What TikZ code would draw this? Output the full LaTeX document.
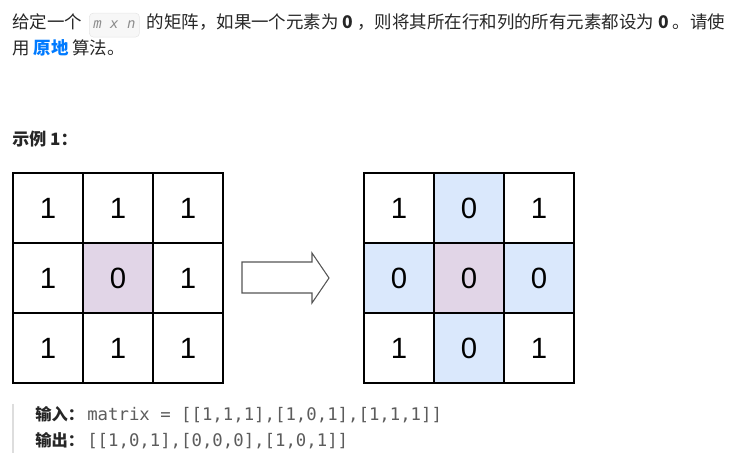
\documentclass[tikz,border=0pt]{standalone}
\usepackage{fontspec}
\setmainfont{Liberation Sans}
\setmonofont{DejaVu Sans Mono}
\newfontfamily\cjk{Noto Sans CJK SC}
\usetikzlibrary{positioning}
\definecolor{ctext}{HTML}{262626}
\definecolor{ccode}{HTML}{5C5C5C}
\definecolor{cvar}{HTML}{8C8C8C}
\definecolor{cline}{HTML}{E6E6E6}
\definecolor{cwash}{HTML}{F7F7F7}
\definecolor{clink}{HTML}{007AFF}
\definecolor{cbar}{HTML}{DDDDDD}
\definecolor{cblue}{HTML}{DAE8FC}
\definecolor{cpink}{HTML}{E1D5E7}
\definecolor{carrow}{HTML}{555555}
\newcommand{\bzero}{{\bfseries 0}}

\begin{document}
\begin{tikzpicture}[x=0.75pt,y=-0.75pt,
    txt/.style={anchor=base west,inner sep=0pt,text=ctext,
                font=\cjk\fontsize{13.1}{15}\selectfont},
    small/.style={txt,font=\cjk\bfseries\fontsize{12.2}{14}\selectfont},
    mono/.style={anchor=base west,inner sep=0pt,text=ccode,
                 font=\ttfamily\fontsize{13}{15}\selectfont},
    var/.style={anchor=base west,draw=cline,fill=cwash,rounded corners=3pt,
                inner xsep=3pt,minimum height=18pt,text=cvar,
                font=\ttfamily\itshape\fontsize{10.5}{12}\selectfont},
    cell/.style={draw=black,line width=0.8pt,minimum size=52.5pt,inner sep=0pt,
                 text=black,font=\fontsize{22}{24}\selectfont}]
  \useasboundingbox (0,0) rectangle (747,466);
  % problem statement
  \node[txt] (given) at (12,29) {给定一个};
  \node[var] (mxn) at ([xshift=5pt]given.base east) {m x n};
  \node[txt] (rest) at ([xshift=5pt]mxn.base east)
    {的矩阵，如果一个元素为 \bzero{} ，则将其所在行和列的所有元素都设为 \bzero{} 。请使};
  \node[txt] (use) at (12,55) {用 {\color{clink}\bfseries 原地} 算法。};
  \node[txt,font=\cjk\bfseries\fontsize{12.75}{15}\selectfont] (ex) at (12,146) {示例 1：};
  % input grid
  \foreach \r/\c/\v/\f in {1/1/1/white,1/2/1/white,1/3/1/white,
                           2/1/1/white,2/2/0/cpink,2/3/1/white,
                           3/1/1/white,3/2/1/white,3/3/1/white}
    \node[cell,fill=\f] (in\r\c) at ({48+70*(\c-1)},{208+70*(\r-1)}) {\v};
  % output grid
  \foreach \r/\c/\v/\f in {1/1/1/white,1/2/0/cblue,1/3/1/white,
                           2/1/0/cblue,2/2/0/cpink,2/3/0/cblue,
                           3/1/1/white,3/2/0/cblue,3/3/1/white}
    \node[cell,fill=\f] (out\r\c) at ({399+70*(\c-1)},{208+70*(\r-1)}) {\v};
  % block arrow
  \draw[carrow,line width=0.8pt,line join=miter]
    (242,262) -- (312,262) -- (312,253) -- (329,278)
    -- (312,303) -- (312,293) -- (242,293) -- cycle;
  % input / output lines
  \draw[cbar,line width=2.2pt] (13,404) -- (13,453);
  \node[small] (inlab) at (35,421) {输入：};
  \node[mono] (inval) at (87,421) {matrix = [[1,1,1],[1,0,1],[1,1,1]]};
  \node[small] (outlab) at (35,447) {输出：};
  \node[mono] (outval) at (inval.west |- outlab.base) {[[1,0,1],[0,0,0],[1,0,1]]};
\end{tikzpicture}
\end{document}
